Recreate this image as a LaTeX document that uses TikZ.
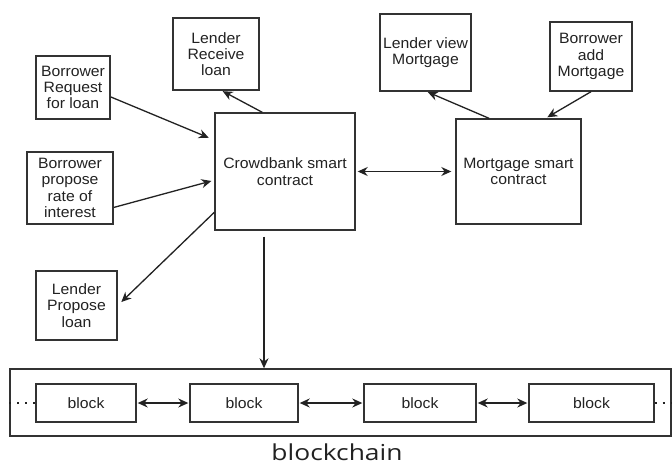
\documentclass[tikz,border=0pt]{standalone}
\usepackage{fontspec}
\setmainfont[FakeStretch=1.05]{Liberation Sans}
\newfontfamily\labelfont[FakeStretch=1.2]{Open Sans}
\usetikzlibrary{arrows.meta,calc}
\definecolor{ink}{HTML}{222222}
\definecolor{edge}{HTML}{333333}
\tikzset{
  box/.style={draw=edge,line width=1.4pt,rectangle,align=center,text=ink,
    font=\fontsize{15}{16.3}\selectfont,inner sep=0pt},
  arr/.style={draw=ink,line width=1.3pt,-{Stealth[length=10pt,width=9pt]}},
  darr/.style={draw=ink,line width=1.3pt,{Stealth[length=10pt,width=9pt]}-{Stealth[length=10pt,width=9pt]}},
}
\begin{document}
\begin{tikzpicture}[x=1pt,y=-1pt]
\useasboundingbox[fill=white] (0,0) rectangle (672,464);
% nodes
\node[box,minimum width=74pt,minimum height=63pt] (req) at (73,87.5) {Borrower\\Request\\for loan};
\node[box,minimum width=86pt,minimum height=72pt] (recv) at (216,54) {Lender\\Receive\\loan};
\node[box,minimum width=91pt,minimum height=77pt] (view) at (425.5,52.5) {Lender view\\Mortgage};
\node[box,minimum width=82pt,minimum height=69pt] (add) at (591,56.5) {Borrower\\add\\Mortgage};
\node[box,minimum width=140pt,minimum height=117pt] (cb) at (285,171.5) {Crowdbank smart\\contract};
\node[box,minimum width=125pt,minimum height=105pt] (mort) at (518.5,171.5) {Mortgage smart\\contract};
\node[box,minimum width=86pt,minimum height=72pt] (rate) at (70,188) {Borrower\\propose\\rate of\\interest};
\node[box,minimum width=81pt,minimum height=69pt] (prop) at (76.5,305.5) {Lender\\Propose\\loan};
% blockchain
\node[draw=edge,line width=1.4pt,rectangle,minimum width=661pt,minimum height=67pt,inner sep=0pt] (chain) at (340.5,402.5) {};
\node[box,minimum width=100pt,minimum height=38pt] (b1) at (86,403) {block};
\node[box,minimum width=108pt,minimum height=38pt] (b2) at (244,403) {block};
\node[box,minimum width=112pt,minimum height=38pt] (b3) at (420,403) {block};
\node[box,minimum width=125pt,minimum height=38pt] (b4) at (591.5,403) {block};
\node[text=ink,font=\labelfont\fontsize{22}{24}\selectfont,anchor=base,inner sep=0pt] (lbl) at (337,460) {blockchain};
% connectors
\draw[arr,shorten >=6pt] (req.-14) -- (cb.156);
\draw[arr,shorten >=3pt] (rate.-24) -- (cb.187);
\draw[arr,shorten >=5pt] (cb.210) -- (prop.east);
\draw[arr,shorten >=1pt] (cb.111) -- (recv.-81);
\draw[darr,shorten <=2pt,shorten >=4pt] (cb.east) -- (mort.west);
\draw[arr,shorten >=1pt] (mort.119) -- (view.-88);
\draw[arr,shorten >=2pt] (add.south) -- (mort.63);
\coordinate (down) at (264,0);
\draw[arr,shorten <=6pt] (cb.south -| down) -- (chain.north -| down);
\draw[darr,shorten <=1pt,shorten >=1pt] (b1.east) -- (b2.west);
\draw[darr,shorten <=1pt,shorten >=1pt] (b2.east) -- (b3.west);
\draw[darr,shorten <=1pt,shorten >=1pt] (b3.east) -- (b4.west);
\draw[draw=ink,line width=1.5pt,dash pattern=on 2pt off 6pt] (chain.west |- b1.west) -- (b1.west);
\draw[draw=ink,line width=1.5pt,dash pattern=on 2pt off 6pt] (b4.east) -- (chain.east |- b4.east);
\end{tikzpicture}
\end{document}
